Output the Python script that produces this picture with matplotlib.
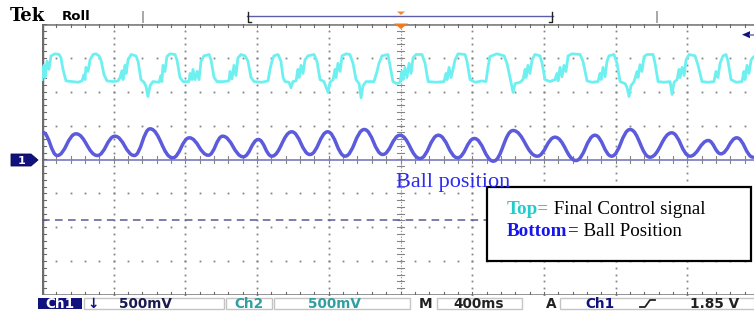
import numpy as np
import matplotlib
matplotlib.use("Agg")
import matplotlib.pyplot as plt
from matplotlib.path import Path
from matplotlib.patches import PathPatch, Rectangle, Polygon

# ---------------- scope settings ----------------
TIME_PER_DIV = 0.4      # s   (M 400ms)
CH1_V_PER_DIV = 0.5     # V   (Ch1 500mV)
CH2_V_PER_DIV = 0.5     # V   (Ch2 500mV)
N_XDIV, N_YDIV = 10, 8
CH1_REF_DIV = 0.0       # ch1 ground marker position (div)
CH2_REF_DIV = -1.8      # ch2 reference level (div)
TRIG_LEVEL = 1.85       # V, ch1 rising edge

# ---------------- Ch1 : ball position (turning points, s / V) ----------------
ch1_t = [0.006, 0.085, 0.190, 0.309, 0.407, 0.515, 0.603, 0.729, 0.822, 0.928,
         1.008, 1.123, 1.207, 1.282, 1.393, 1.495, 1.594, 1.691, 1.798, 1.901,
         1.997, 2.109, 2.211, 2.319, 2.412, 2.518, 2.628, 2.763, 2.862, 2.979,
         3.085, 3.178, 3.281, 3.392, 3.513, 3.615, 3.717, 3.787, 3.876, 3.967]
ch1_v = [0.398, 0.059, 0.379, 0.059, 0.344, 0.059, 0.453, 0.025, 0.320, 0.063,
         0.344, 0.040, 0.295, 0.049, 0.409, 0.074, 0.409, 0.049, 0.443, 0.074,
         0.358, 0.015, 0.358, 0.025, 0.310, -0.025, 0.428, 0.049, 0.329, -0.015,
         0.358, 0.049, 0.443, 0.034, 0.394, 0.049, 0.280, 0.084, 0.320, 0.034]

# ---------------- Ch2 : final control signal (ms / V) ----------------
ch2_t_ms = [0, 11, 17, 28, 39, 50, 73, 95, 106, 117,
            134, 167, 201, 223, 234, 240, 245, 257, 268, 285,
            301, 318, 329, 346, 363, 396, 424, 435, 446, 452,
            463, 469, 480, 497, 524, 536, 552, 569, 580, 591,
            603, 619, 653, 664, 669, 675, 686, 697, 714, 742,
            753, 770, 787, 820, 826, 837, 842, 854, 865, 876,
            887, 904, 932, 943, 960, 976, 1015, 1043, 1049, 1060,
            1071, 1082, 1093, 1110, 1133, 1149, 1166, 1183, 1227, 1261,
            1272, 1283, 1294, 1317,
            1333, 1345, 1356, 1378, 1389, 1400, 1417, 1428, 1434, 1445,
            1456, 1467, 1484, 1518, 1534, 1551, 1573, 1596, 1607, 1624,
            1635, 1640, 1651, 1663, 1674, 1696, 1718, 1735, 1752, 1769,
            1780, 1791, 1808, 1852, 1869, 1880, 1897, 1930, 1941, 1958,
            1980, 1997, 2008, 2014, 2025, 2036, 2048, 2059, 2070, 2087,
            2120, 2137, 2154, 2198, 2243, 2254, 2260, 2271, 2282, 2293,
            2304, 2321, 2360, 2371, 2388, 2416, 2455, 2477, 2488, 2499,
            2538, 2578, 2594, 2611, 2628, 2639,
            2667, 2684, 2695, 2700, 2711, 2722, 2734, 2750, 2778, 2790,
            2806, 2834, 2862, 2873, 2879, 2890, 2901, 2912, 2923, 2935,
            2957, 3002, 3018, 3041, 3068, 3102, 3113, 3119, 3130, 3141,
            3152, 3163, 3191, 3208, 3225, 3253, 3264, 3275, 3286, 3303,
            3320, 3325, 3336, 3347, 3359, 3375, 3409, 3420, 3437, 3470,
            3504, 3515, 3526, 3543, 3554, 3559, 3571, 3582, 3593, 3610,
            3643, 3660, 3682, 3716, 3749, 3760, 3771, 3783, 3799, 3816,
            3827, 3844, 3872, 3905, 3916, 3922, 3933, 3944, 3956, 3972,
            4000]
ch2_v = [2.08, 2.29, 2.11, 2.35, 2.23, 2.43, 2.46, 2.45, 2.40, 2.23,
         2.06, 2.05, 2.04, 2.06, 2.15, 2.08, 2.26, 2.20, 2.37, 2.45,
         2.46, 2.43, 2.37, 2.15, 2.06, 2.05, 2.06, 2.11, 2.21, 2.08,
         2.29, 2.17, 2.37, 2.45, 2.43, 2.35, 2.08, 2.04, 1.98, 1.83,
         1.99, 2.05, 2.04, 2.14, 2.05, 2.29, 2.20, 2.42, 2.46, 2.45,
         2.37, 2.11, 2.05, 2.05, 2.17, 2.08, 2.23, 2.08, 2.20, 2.08,
         2.35, 2.43, 2.45, 2.37, 2.11, 2.05, 2.05, 2.06, 2.20, 2.09,
         2.29, 2.14, 2.40, 2.45, 2.43, 2.35, 2.11, 2.05, 2.04, 2.06,
         2.23, 2.35, 2.43, 2.45,
         2.35, 2.11, 2.05, 2.04, 1.96, 2.05, 2.06, 2.23, 2.11, 2.29,
         2.17, 2.37, 2.43, 2.45, 2.35, 2.08, 2.05, 1.89, 2.04, 2.08,
         2.23, 2.11, 2.32, 2.20, 2.43, 2.46, 2.45, 2.32, 2.08, 2.02,
         1.81, 1.99, 2.05, 2.05, 2.20, 2.32, 2.43, 2.45, 2.29, 2.05,
         2.02, 2.04, 2.20, 2.08, 2.26, 2.11, 2.32, 2.17, 2.40, 2.45,
         2.45, 2.32, 2.05, 2.04, 2.05, 2.17, 2.08, 2.26, 2.11, 2.23,
         2.37, 2.46, 2.45, 2.35, 2.08, 2.04, 2.06, 2.05, 2.26, 2.42,
         2.46, 2.43, 2.32, 2.11, 1.89, 2.02,
         2.04, 2.08, 2.23, 2.11, 2.29, 2.17, 2.37, 2.45, 2.43, 2.32,
         2.08, 2.05, 2.08, 2.17, 2.06, 2.26, 2.12, 2.29, 2.20, 2.43,
         2.46, 2.45, 2.35, 2.06, 2.04, 2.05, 2.17, 2.08, 2.26, 2.12,
         2.35, 2.43, 2.45, 2.32, 2.05, 2.02, 1.96, 1.83, 1.99, 2.05,
         2.20, 2.11, 2.30, 2.20, 2.42, 2.45, 2.45, 2.32, 2.05, 2.04,
         2.05, 1.86, 2.04, 2.08, 2.23, 2.11, 2.26, 2.14, 2.37, 2.45,
         2.43, 2.29, 2.05, 2.04, 2.05, 2.20, 2.11, 2.32, 2.43, 2.45,
         2.35, 2.08, 2.04, 2.05, 2.20, 2.08, 2.29, 2.17, 2.37, 2.42,
         2.42]

# ---------------- colours ----------------
C_CH1 = "#5b5bdc"
C_CH2 = "#6ef0f0"
C_NAVY = "#12127e"
C_GRID = "#858585"
C_TEAL = "#2f9f9f"

W, H = 754, 331
fig = plt.figure(figsize=(W / 100, H / 100), dpi=100)
fig.patch.set_facecolor("white")

# graticule axes (in divisions); the right edge runs just past the figure
L, T, R, B = 42, 24, 759, 295
ax = fig.add_axes([L / W, (H - B) / H, (R - L) / W, (B - T) / H])
ax.set_xlim(0, N_XDIV)
ax.set_ylim(-N_YDIV / 2, N_YDIV / 2)
ax.axis("off")

# dotted grid
minor_x = np.arange(0, N_XDIV + 1e-9, 0.2)
minor_y = np.arange(-N_YDIV / 2, N_YDIV / 2 + 1e-9, 0.2)
for j in range(-N_YDIV // 2 + 1, N_YDIV // 2):
    if j == 0:
        continue
    ax.plot(minor_x, np.full_like(minor_x, j), ls="none", marker="s",
            ms=1.3, mec="none", mfc=C_GRID, zorder=1)
for i in range(1, N_XDIV):
    if i == N_XDIV // 2:
        continue
    ax.plot(np.full_like(minor_y, i), minor_y, ls="none", marker="s",
            ms=1.3, mec="none", mfc=C_GRID, zorder=1)

# centre cross with fine ticks
cx = N_XDIV / 2
ax.plot([cx, cx], [-4, 4], color=C_GRID, lw=0.8, ls=(0, (1, 1.6)), zorder=1)
for yy in minor_y:
    ax.plot([cx - 0.05, cx + 0.05], [yy, yy], color=C_GRID, lw=0.8, zorder=1)
ax.axhline(CH1_REF_DIV, color="#8484c4", lw=1.3, zorder=1)
for xx in minor_x:
    ax.plot([xx, xx], [-0.09, 0.09], color=C_GRID, lw=0.8, zorder=1)

# borders with ticks
ax.plot([0, N_XDIV], [4, 4], color="#8a8a8a", lw=2.0, zorder=2)
ax.plot([0, N_XDIV], [-4, -4], color="#8a8a8a", lw=2.0, zorder=2)
for xx in minor_x:
    ax.plot([xx, xx], [4, 3.9], color="#6a6a6a", lw=0.8, zorder=2)
    ax.plot([xx, xx], [-4, -3.9], color="#6a6a6a", lw=0.8, zorder=2)
ax.plot([0, 0], [-4, 4], color="#6e6e6e", lw=3.2, zorder=2)
for yy in minor_y:
    ax.plot([0, 0.05], [yy, yy], color="#6a6a6a", lw=0.8, zorder=2)

# ch2 reference level
ax.axhline(CH2_REF_DIV, color="#5a5a96", lw=1.1, ls=(0, (5, 3.5)), zorder=2)

# Ch2 trace
x2 = np.asarray(ch2_t_ms) / 1000.0 / TIME_PER_DIV
y2 = np.asarray(ch2_v) / CH2_V_PER_DIV + CH2_REF_DIV
ax.plot(x2, y2, color=C_CH2, lw=2.0, solid_joinstyle="round", zorder=5)

# Ch1 trace: smooth strokes between the turning points
x1 = np.asarray(ch1_t) / TIME_PER_DIV
y1 = np.asarray(ch1_v) / CH1_V_PER_DIV + CH1_REF_DIV
verts = [(x1[0], y1[0])]
codes = [Path.MOVETO]
for k in range(1, len(x1)):
    dx = x1[k] - x1[k - 1]
    verts += [(x1[k - 1] + 0.42 * dx, y1[k - 1]),
              (x1[k] - 0.42 * dx, y1[k]),
              (x1[k], y1[k])]
    codes += [Path.CURVE4] * 3
ax.add_patch(PathPatch(Path(verts, codes), fill=False, edgecolor=C_CH1,
                       lw=2.5, zorder=6, capstyle="round", joinstyle="round"))

# ---------------- screen furniture (pixel overlay) ----------------
ov = fig.add_axes([0, 0, 1, 1], zorder=10)
ov.set_xlim(0, W)
ov.set_ylim(H, 0)
ov.axis("off")
ov.patch.set_alpha(0)

ov.text(10, 21, "Tek", family="DejaVu Serif", fontweight="bold",
        fontsize=13, color="black", va="baseline")
ov.text(62, 20.5, "Roll", family="DejaVu Sans", fontweight="bold",
        fontsize=9.5, color="black", va="baseline")

# record bar
ov.plot([247, 553], [15.7, 15.7], color="#5d5dab", lw=1.0)
ov.plot([248, 248, 251], [12, 21.5, 21.5], color="#222222", lw=1.0)
ov.plot([552, 552, 549], [12, 21.5, 21.5], color="#222222", lw=1.0)
ov.plot([143, 143], [12, 22], color="#a8a8a8", lw=1.4)
ov.plot([657, 657], [12, 22], color="#a8a8a8", lw=1.4)
ov.add_patch(Polygon([(397, 11.5), (405, 11.5), (401, 15)], closed=True,
                     color="#f08a30", lw=0))
ov.add_patch(Polygon([(394, 23.5), (408, 23.5), (401, 29)], closed=True,
                     color="#f07a20", lw=0))

# trigger level arrow (right edge)
trig_y = 160 - (TRIG_LEVEL / CH1_V_PER_DIV) * (B - T) / N_YDIV
ov.add_patch(Polygon([(742, trig_y), (750, trig_y - 3.5), (750, trig_y + 3.5)],
                     closed=True, color=C_NAVY, lw=0))
ov.plot([750, 754], [trig_y, trig_y], color="#7a7ab0", lw=1.2)

# ch1 ground marker
ov.add_patch(Polygon([(11, 154), (31, 154), (38, 160), (31, 166), (11, 166)],
                     closed=True, facecolor=C_NAVY, edgecolor="#0a0a50", lw=0.6))
ov.text(22, 160.5, "1", color="white", fontweight="bold", fontsize=8,
        ha="center", va="center", family="DejaVu Sans")

# annotations
ov.text(453, 186.5, "Ball position", family="Liberation Serif", fontsize=16,
        color="#2a2af2", ha="center", va="baseline")
ov.add_patch(Rectangle((487, 186.5), 264, 74.5, facecolor="white",
                       edgecolor="black", lw=1.6))
t1 = ov.text(507, 213.5, "Top=", family="Liberation Serif", fontsize=13.7,
             fontweight="bold", color="#22cccc", va="baseline")
ov.annotate(" Final Control signal", xy=(1, 0), xycoords=t1, va="bottom",
            family="Liberation Serif", fontsize=13.7, color="black")
t2 = ov.text(507, 236.5, "Bottom", family="Liberation Serif", fontsize=13.7,
             fontweight="bold", color="#1515ee", va="baseline")
ov.annotate("= Ball Position", xy=(1, 0), xycoords=t2, va="bottom",
            family="Liberation Serif", fontsize=13.7, color="black")

# status line
sy0, sy1 = 297.5, 309
sc = (sy0 + sy1) / 2 + 0.5
ov.add_patch(Rectangle((38, sy0), 44, sy1 - sy0, facecolor=C_NAVY, lw=0))
for (xa, xb) in [(84, 224), (226, 272), (274, 410), (437, 522), (560, 760)]:
    ov.add_patch(Rectangle((xa, sy0), xb - xa, sy1 - sy0, facecolor="none",
                           edgecolor="#c4c4c4", lw=1.0))
sfont = dict(family="DejaVu Sans", fontweight="bold", fontsize=9.8, va="center")
ov.text(60, sc, "Ch1", color="white", ha="center", **sfont)
ov.text(93, sc, "\u2193", color=C_NAVY, ha="center", **sfont)
ov.text(145, sc, "500mV", color="#1a1a50", ha="center", **sfont)
ov.text(249, sc, "Ch2", color=C_TEAL, ha="center", **sfont)
ov.text(334, sc, "500mV", color=C_TEAL, ha="center", **sfont)
ov.text(426, sc, "M", color="#222222", ha="center", **sfont)
ov.text(479, sc, "400ms", color="#222222", ha="center", **sfont)
ov.text(551, sc, "A", color="#222222", ha="center", **sfont)
ov.text(600, sc, "Ch1", color=C_NAVY, ha="center", **sfont)
ov.plot([640, 645, 650, 655], [307, 307, 300, 300], color="#222222", lw=1.3)
ov.text(690, sc, "1.85 V", color="#222222", ha="left", **sfont)

fig.savefig("out.png", dpi=100, facecolor="white")
